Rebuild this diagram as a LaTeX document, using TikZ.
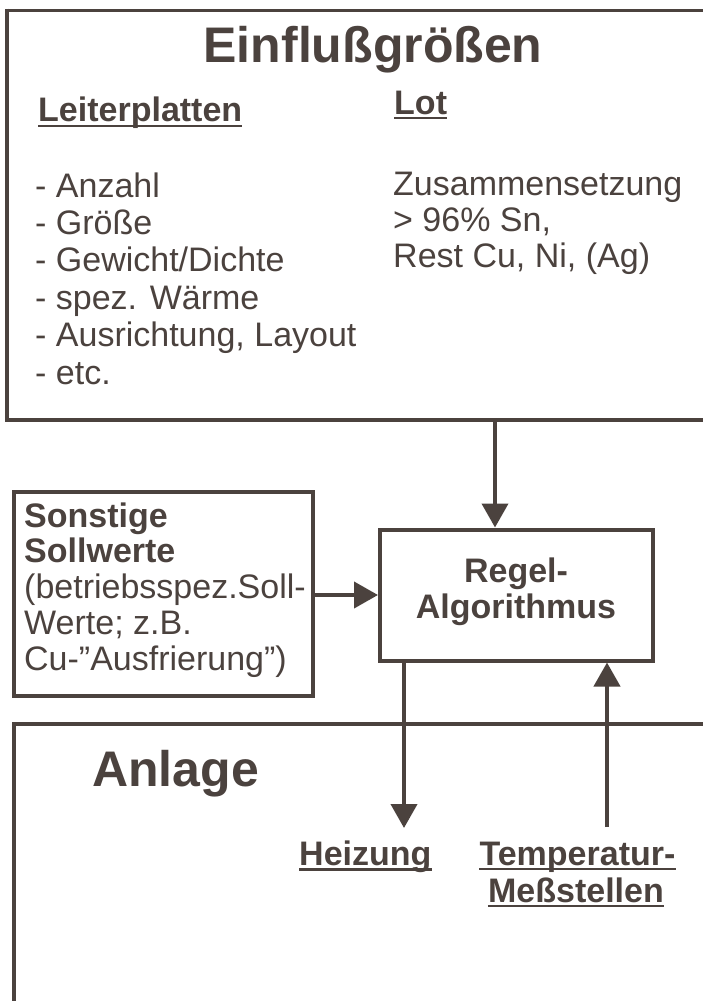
\documentclass[tikz,border=0pt]{standalone}
\usepackage{fontspec}
\setmainfont{Liberation Sans}
\usetikzlibrary{arrows.meta}
\definecolor{ink}{RGB}{75,66,62}
\begin{document}
\begin{tikzpicture}[x=1pt,y=-1pt,
  txt/.style={inner sep=0pt, text=ink, font=\fontsize{34}{37.4}\selectfont},
  txtr/.style={inner sep=0pt, text=ink, font=\fontsize{34}{36}\selectfont},
  btxt/.style={inner sep=0pt, text=ink, font=\fontsize{34}{36}\selectfont\bfseries},
  ttl/.style={inner sep=0pt, text=ink, font=\fontsize{50}{60}\selectfont\bfseries},
  uline/.style={draw=ink, line width=2.6pt},
  frame/.style={draw=ink, line width=4pt},
  arr/.style={draw=ink, line width=4pt, -{Triangle[length=24pt,width=26pt]}}]
\useasboundingbox (0,0) rectangle (703,1001);
% top frame
\draw[frame, line width=3pt] (706,10) -- (7,10);
\draw[frame] (7,8.5) -- (7,420) -- (706,420);
\coordinate (topbot) at (495,420);
\node[ttl, anchor=base] (title) at (373,62) {Einflußgrößen};
\node[btxt, anchor=base west] (lp) at (38,121) {Leiterplatten};
\node[btxt, anchor=base west] (lot) at (394,114) {Lot};
\draw[uline] ([yshift=-5pt]lp.base west) -- ([yshift=-5pt]lp.base east);
\draw[uline] ([yshift=-4pt]lot.base west) -- ([yshift=-4pt]lot.base east);
% multi-line nodes: base anchor is the last line's baseline
\node[txt, anchor=base west, align=left] (list) at (35,384)
  {- Anzahl\\- Größe\\- Gewicht/Dichte\\- spez. Wärme\\- Ausrichtung, Layout\\- etc.};
\node[txtr, anchor=base west, align=left] (zus) at (393,267)
  {Zusammensetzung\\> 96\% Sn,\\Rest Cu, Ni, (Ag)};
% Regel box
\node[frame, minimum width=273pt, minimum height=131pt, inner sep=0pt] (regel) at (516.5,595) {};
\node[btxt, anchor=base, align=center] (regtxt) at (516,618) {Regel-\\Algorithmus};
% Sonstige box
\node[frame, minimum width=299pt, minimum height=204pt, inner sep=0pt] (sonst) at (163.5,594) {};
\node[inner sep=0pt, text=ink, font=\fontsize{34}{35.7}\selectfont, anchor=base west, align=left] (sontxt) at (24,670)
  {\textbf{Sonstige}\\\textbf{Sollwerte}\\(betriebsspez.Soll-\\Werte; z.B.\\Cu-”Ausfrierung”)};
% Anlage frame
\draw[frame] (706,724) -- (14,724) -- (14,1006);
\node[ttl, anchor=base west] (anl) at (92,786) {Anlage};
\node[btxt, anchor=base west] (heiz) at (299,865) {Heizung};
\node[btxt, anchor=base] (temp) at (577.5,865) {Temperatur-};
\node[btxt, anchor=base] (mess) at (576,902) {Meßstellen};
\draw[uline] ([yshift=-4.5pt]heiz.base west) -- ([yshift=-4.5pt]heiz.base east);
\draw[uline] ([yshift=-4pt]temp.base west) -- ([yshift=-4pt]temp.base east);
\draw[uline] ([yshift=-4pt]mess.base west) -- ([yshift=-4pt]mess.base east);
\coordinate (heiztip) at (404,828);
\coordinate (messbot) at (607,827);
% connectors
\draw[arr] (topbot) -- (topbot |- regel.north);
\draw[arr] (regel.west -| sonst.east) -- (regel.west);
\draw[arr] (heiztip |- regel.south) -- (heiztip);
\draw[arr] (messbot) -- (messbot |- regel.south);
\end{tikzpicture}
\end{document}
